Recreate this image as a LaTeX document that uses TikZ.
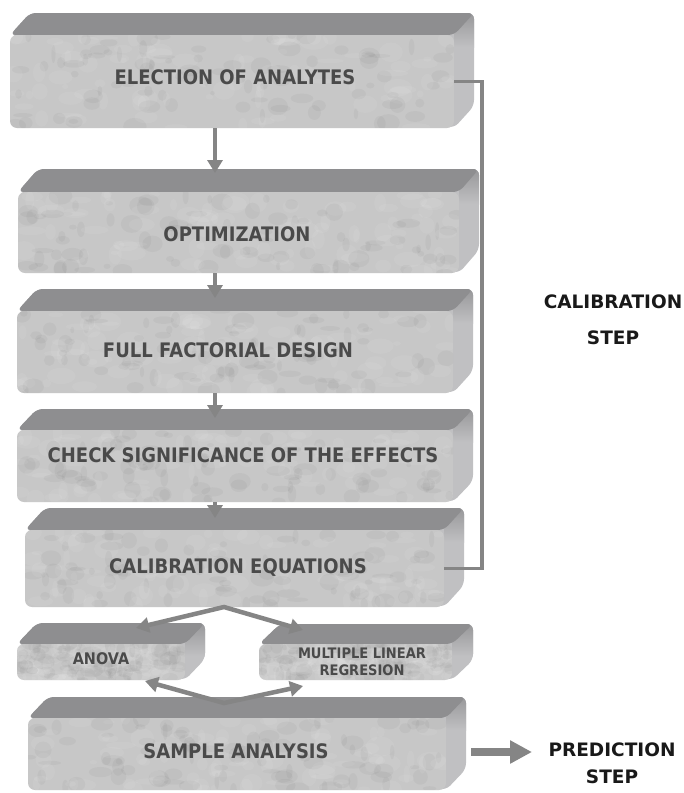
\documentclass[tikz,border=0pt]{standalone}
\usepackage{fontspec}
\newfontfamily\boxfont{DejaVu Sans}[FakeStretch=0.9]
\newfontfamily\lblfont{DejaVu Sans}
\usetikzlibrary{arrows.meta}
\definecolor{frontc}{HTML}{C7C7C7}
\definecolor{topc}{HTML}{8E8E90}
\definecolor{sidec}{HTML}{C0C0C2}
\definecolor{txtc}{HTML}{4A4A4A}
\definecolor{linec}{HTML}{858585}
\tikzset{
  front/.style={draw=none, fill=frontc, rounded corners=7pt, inner sep=0pt},
  boxtext/.style={font=\boxfont\bfseries\fontsize{20}{22}\selectfont, text=txtc, align=center, inner sep=0pt},
  anovatext/.style={font=\boxfont\bfseries\fontsize{16}{18}\selectfont, text=txtc, align=center, inner sep=0pt},
  mltext/.style={font=\boxfont\bfseries\fontsize{14.5}{17.5}\selectfont, text=txtc, align=center, inner sep=0pt},
  steptext/.style={font=\lblfont\bfseries\fontsize{18.5}{36}\selectfont, text=black!90, align=center, inner sep=0pt},
  predtext/.style={font=\lblfont\bfseries\fontsize{18.5}{27}\selectfont, text=black!90, align=center, inner sep=0pt},
  flow/.style={draw=linec, line width=4.5pt, line join=round, -{Triangle[length=13pt,width=15pt]}},
  vflow/.style={draw=linec, line width=4.5pt, line join=miter, {Triangle[length=13pt,width=15pt]}-{Triangle[length=13pt,width=15pt]}},
  conn/.style={draw=linec, line width=3.5pt, line join=miter},
  bigarr/.style={draw=linec, line width=8pt, -{Triangle[length=22pt,width=22pt]}},
}
\newcommand\slab[7]{%
  \begin{scope}
    \path[clip, rounded corners=6pt] (#2,#3) -- ({#2+#6},{#3-#7}) -- ({#4+#6},{#3-#7}) -- ({#4+#6},{#5-#7}) -- (#4,#5) -- cycle;
    \fill[sidec] ({#2-5},{#3-#7-5}) rectangle ({#4+#6+5},{#5+5});
    \shade[top color=topc!85!sidec, bottom color=sidec] (#4,{#3-#7-2}) rectangle ({#4+#6+5},{#3+12});
  \end{scope}
  \fill[topc, rounded corners=6pt] (#2,#3) -- ({#2+#6},{#3-#7}) -- ({#4+#6},{#3-#7}) -- (#4,#3) -- cycle;
  \node[front, minimum width={(#4-#2)*1pt}, minimum height={(#5-#3)*1pt}] (#1) at ({(#2+#4)/2},{(#3+#5)/2}) {};
  \begin{scope}
    \clip[rounded corners=7pt] (#2,#3) rectangle (#4,#5);
    \foreach \i in {1,...,90}{
      \fill[white, opacity=0.07] ({#2+rnd*(#4-#2)},{#3+rnd*(#5-#3)}) ellipse [x radius={3+rnd*12}, y radius={2+rnd*8}];
      \fill[black, opacity=0.03] ({#2+rnd*(#4-#2)},{#3+rnd*(#5-#3)}) ellipse [x radius={2+rnd*10}, y radius={2+rnd*7}];
    }
  \end{scope}
}
\begin{document}
\begin{tikzpicture}[x=1pt,y=-1pt]
\pgfmathsetseed{11}
\useasboundingbox (0,0) rectangle (684,793);
\fill[white] (0,0) rectangle (684,793);
% boxes
\slab{b1}{10}{35}{454}{128}{20}{22}
\slab{b2}{18}{192}{459}{273}{20}{23}
\slab{b3}{17}{311}{453}{393}{20}{22}
\slab{b4}{17}{430}{453}{502}{20}{21}
\slab{b5}{25}{530}{444}{607}{20}{22}
\slab{an}{17}{644}{185}{680}{20}{21}
\slab{ml}{259}{644}{452}{680}{21}{20}
\slab{sa}{28}{718}{446}{790}{20}{21}
% texts
\node[boxtext] (t1) at (235,77.5) {ELECTION OF ANALYTES};
\node[boxtext] (t2) at (237,234) {OPTIMIZATION};
\node[boxtext] (t3) at (228,350) {FULL FACTORIAL DESIGN};
\node[boxtext] (t4) at (243,455) {CHECK SIGNIFICANCE OF THE EFFECTS};
\node[boxtext] (t5) at (238,567.5) {CALIBRATION EQUATIONS};
\node[anovatext] (t6) at (101,659) {ANOVA};
\node[mltext] (t7) at (362,662) {MULTIPLE LINEAR\\REGRESION};
\node[boxtext] (t8) at (236,751) {SAMPLE ANALYSIS};
\node[steptext] (cal) at (613,320) {CALIBRATION\\STEP};
\node[predtext] (pred) at (612,763.5) {PREDICTION\\STEP};
% coordinates
\coordinate (ax) at (215,0);
\coordinate (rx) at (482,0);
\coordinate (h2) at (215,173);
\coordinate (h3) at (215,298);
\coordinate (h4) at (215,418);
\coordinate (h5) at (215,518);
\coordinate (v1) at (224,607);
\coordinate (v2) at (224,703);
\coordinate (ta1) at (136,628);
\coordinate (tm1) at (303,630);
\coordinate (ta2) at (145,681);
\coordinate (tm2) at (303,686);
\coordinate (p0) at (471,752);
\coordinate (p1) at (532,752);
% connectors
\draw[conn] (b1.east) -- (b1.east -| rx) -- (b5.east -| rx) -- (b5.east);
\draw[flow] (b1.south -| ax) -- (h2);
\draw[flow] (b2.south -| ax) -- (h3);
\draw[flow] (b3.south -| ax) -- (h4);
\draw[flow] (b4.south -| ax) -- (h5);
\draw[vflow] (ta1) -- (v1) -- (tm1);
\draw[vflow] (ta2) -- (v2) -- (tm2);
\draw[bigarr] (p0) -- (p1);
\end{tikzpicture}
\end{document}
